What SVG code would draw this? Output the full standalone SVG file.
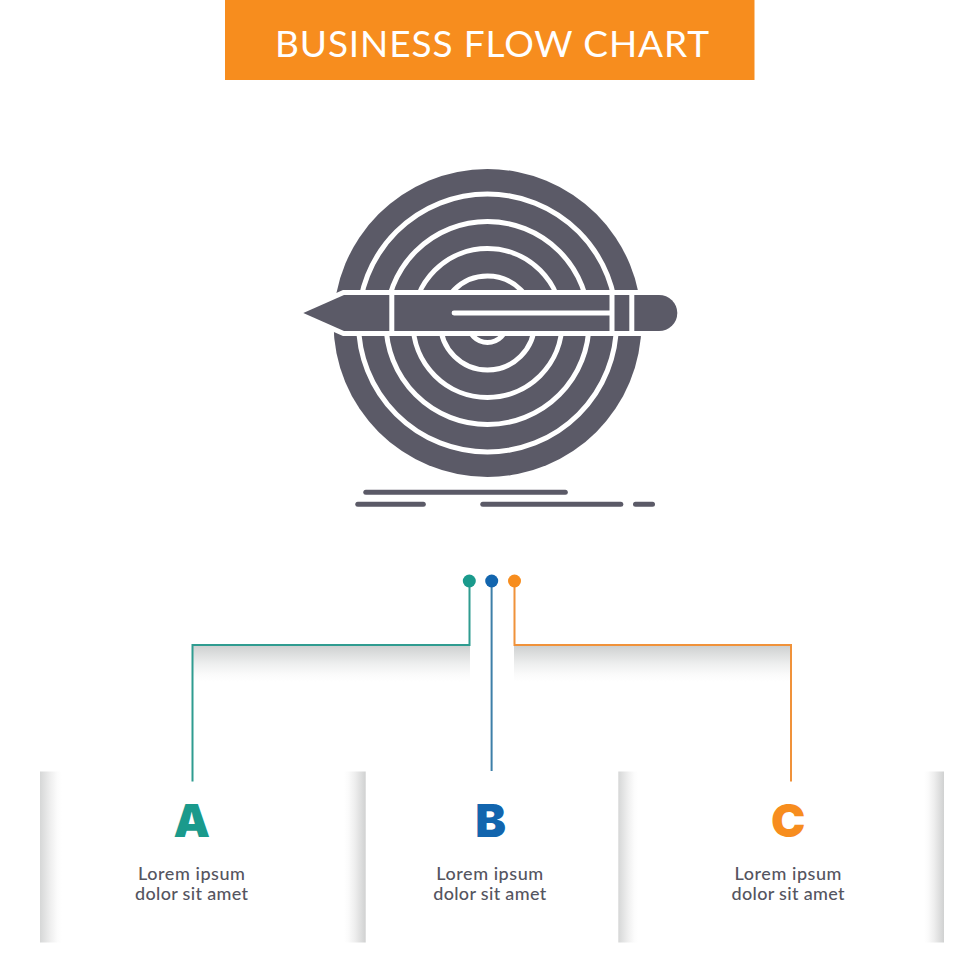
<svg xmlns="http://www.w3.org/2000/svg" width="980" height="980" viewBox="0 0 980 980">
<style>
.ring{fill:none;stroke:#fff;stroke-width:5}
.icon{fill:#5b5a67}
.cut{fill:#fff}
.body{font-family:"Lato","Liberation Sans",sans-serif;font-size:18px;font-weight:500;fill:#55555f;text-anchor:middle}
.letter{font-family:"Inter","Liberation Sans",sans-serif;font-size:46px;font-weight:900;text-anchor:middle}
.wire{fill:none;stroke-width:2}
</style>
<defs>
<linearGradient id="shadeDown" x1="0" y1="0" x2="0" y2="1"><stop offset="0" stop-color="#cfd1d1"/><stop offset=".5" stop-color="#eeefef"/><stop offset=".8" stop-color="#fbfbfb"/><stop offset="1" stop-color="#fff"/></linearGradient>
<linearGradient id="shadeL" x1="0" y1="0" x2="1" y2="0"><stop offset="0" stop-color="#d6d7d7"/><stop offset=".5" stop-color="#f0f0f0"/><stop offset=".8" stop-color="#fcfcfc"/><stop offset="1" stop-color="#fff"/></linearGradient>
<linearGradient id="shadeR" x1="1" y1="0" x2="0" y2="0"><stop offset="0" stop-color="#d0d1d1"/><stop offset=".5" stop-color="#eeeeee"/><stop offset=".8" stop-color="#fbfbfb"/><stop offset="1" stop-color="#fff"/></linearGradient>
</defs>
<rect width="980" height="980" fill="#fff"/>
<g id="banner">
<rect x="225" y="0" width="529.5" height="80" fill="#f78d1e"/>
<text x="275" y="57" font-family="Lato,'Liberation Sans',sans-serif" font-size="37" fill="#fff" textLength="434" lengthAdjust="spacing">BUSINESS FLOW CHART</text>
</g>
<g id="target-icon">
<circle class="icon" cx="487.5" cy="323" r="154"/>
<circle class="ring" cx="487.5" cy="323" r="129"/>
<circle class="ring" cx="487.5" cy="323" r="101.5"/>
<circle class="ring" cx="487.5" cy="323" r="74.5"/>
<circle class="ring" cx="487.5" cy="323" r="47"/>
<circle class="ring" cx="487.5" cy="323" r="19.5"/>
<path class="icon" d="M303.3 313 L344 295 H659 A18.3 18 0 0 1 659 331 H344 Z" stroke="#fff" stroke-width="10" stroke-linejoin="miter" paint-order="stroke"/>
<rect class="cut" x="389.3" y="295" width="5" height="36"/>
<rect class="cut" x="609.5" y="295" width="5" height="36"/>
<rect class="cut" x="629.3" y="295" width="5" height="36"/>
<path class="cut" d="M610 310.6 H454 A2.4 2.4 0 0 0 454 315.4 H610 Z"/>
<rect class="icon" x="363.3" y="489.8" width="204.5" height="5" rx="2.5"/>
<rect class="icon" x="355.3" y="501.8" width="70.5" height="5" rx="2.5"/>
<rect class="icon" x="480.3" y="501.8" width="143" height="5" rx="2.5"/>
<rect class="icon" x="633" y="501.8" width="22" height="5" rx="2.5"/>
</g>
<g id="shadows">
<rect x="193" y="646" width="277" height="36" fill="url(#shadeDown)"/>
<rect x="514" y="646" width="277" height="36" fill="url(#shadeDown)"/>
</g>
<g id="connectors">
<path class="wire" stroke="#2f9c90" d="M469.5 581 V645 H192.5 V781.5"/>
<path class="wire" stroke="#3d7fa8" d="M491.6 581 V771"/>
<path class="wire" stroke="#f0923a" d="M514.5 581 V645 H791 V781.5"/>
<circle cx="469.3" cy="581" r="6.5" fill="#1a9a8c"/>
<circle cx="491.7" cy="581" r="6.5" fill="#1265ae"/>
<circle cx="514.5" cy="581" r="6.5" fill="#f78d1e"/>
</g>
<g id="node-a">
<rect x="40" y="771.5" width="22" height="171" fill="url(#shadeL)"/>
<rect x="344" y="771.5" width="21.7" height="171" fill="url(#shadeR)"/>
<text class="letter" x="191.7" y="837.3" fill="#1a9a8c">A</text>
<text class="body" x="191.5" y="880" textLength="107" lengthAdjust="spacing">Lorem ipsum</text>
<text class="body" x="191.5" y="900" textLength="113" lengthAdjust="spacing">dolor sit amet</text>
</g>
<g id="node-b">
<text class="letter" x="490.5" y="837.3" fill="#1265ae">B</text>
<text class="body" x="489.7" y="880" textLength="107" lengthAdjust="spacing">Lorem ipsum</text>
<text class="body" x="489.7" y="900" textLength="113" lengthAdjust="spacing">dolor sit amet</text>
</g>
<g id="node-c">
<rect x="618.3" y="771.5" width="20" height="171" fill="url(#shadeL)"/>
<rect x="924" y="771.5" width="20" height="171" fill="url(#shadeR)"/>
<text class="letter" x="788.3" y="837.3" fill="#f78d1e">C</text>
<text class="body" x="788" y="880" textLength="107" lengthAdjust="spacing">Lorem ipsum</text>
<text class="body" x="788" y="900" textLength="113" lengthAdjust="spacing">dolor sit amet</text>
</g>
</svg>
